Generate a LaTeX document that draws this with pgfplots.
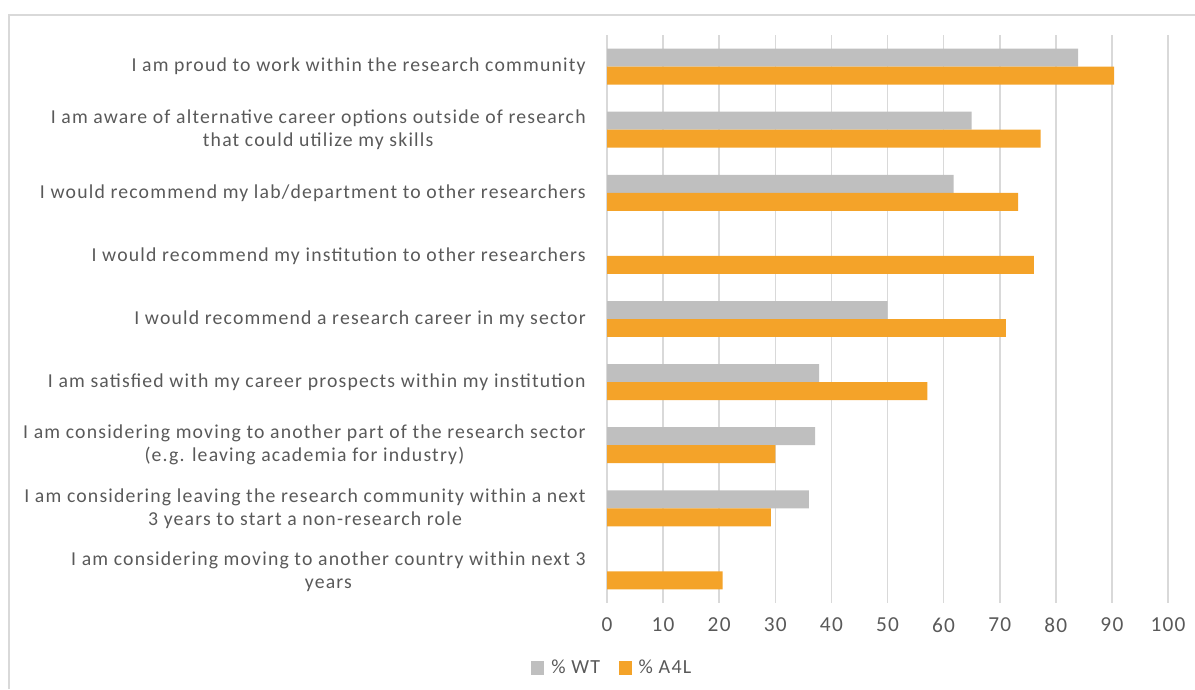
\documentclass[border=0pt]{standalone}
\usepackage{fontspec}
\setmainfont{Carlito}[LetterSpace=6]
\usepackage{pgfplots}
\pgfplotsset{compat=1.18}
\definecolor{txt}{HTML}{595959}
\definecolor{gridc}{HTML}{D9D9D9}
\definecolor{wt}{HTML}{BFBFBF}
\definecolor{afl}{HTML}{F4A329}

\begin{document}
\begin{tikzpicture}
% picture size in px (1px = 0.75pt): 1195 x 689
\useasboundingbox (0,0) rectangle (896.25pt,516.75pt);
\draw[gridc, line width=1.1pt] (6.75pt,0) -- (6.75pt,505.5pt) -- (896.25pt,505.5pt);
\begin{axis}[
    at={(455.25pt,64.5pt)}, anchor=south west,
    scale only axis, width=420.75pt, height=426pt,
    xbar, bar width=0.285,
    xmin=0, xmax=100, xtick={0,10,...,100},
    ymin=-0.5, ymax=8.5, y dir=reverse,
    ytick={0,...,8},
    yticklabels={
        {I am proud to work within the research community},
        {I am aware of alternative career options outside of research\\that could utilize my skills},
        {I would recommend my lab/department to other researchers},
        {I would recommend my institution to other researchers},
        {I would recommend a research career in my sector},
        {I am satisfied with my career prospects within my institution},
        {I am considering moving to another part of the research sector\\(e.g. leaving academia for industry)},
        {I am considering leaving the research community within a next\\3 years to start a non-research role},
        {I am considering moving to another country within next 3\\years}},
    yticklabel style={align=center, font=\fontsize{14.8}{17.25}\selectfont, text=txt, xshift=-12.5pt},
    xticklabel style={font=\fontsize{16}{18}\selectfont, text=txt, yshift=-7.5pt},
    /pgf/number format/assume math mode=true,
    xmajorgrids, grid style={gridc, line width=1.2pt},
    axis line style={draw=none}, major tick length=0pt,
    legend style={at={(axis description cs:0.010,-0.1144)}, anchor=center,
        legend columns=2, draw=none, fill=none, text=txt,
        font=\fontsize{15}{17}\selectfont,
        /tikz/every even column/.append style={column sep=12pt}},
    legend image code/.code={\fill[#1] (0pt,-4.9pt) rectangle (9.75pt,4.9pt); \path (13pt,0pt);},
]
\addplot[fill=wt, draw=none, bar shift=-0.1425] coordinates {
    (84.0,0) (65.0,1) (61.8,2) (50.0,4) (37.8,5) (37.1,6) (36.0,7)
};
\addplot[fill=afl, draw=none, bar shift=0.1425] coordinates {
    (90.4,0) (77.3,1) (73.3,2) (76.1,3) (71.1,4) (57.1,5) (30.0,6) (29.2,7) (20.6,8)
};
\legend{\% WT, \% A4L}
\end{axis}
\end{tikzpicture}
\end{document}
